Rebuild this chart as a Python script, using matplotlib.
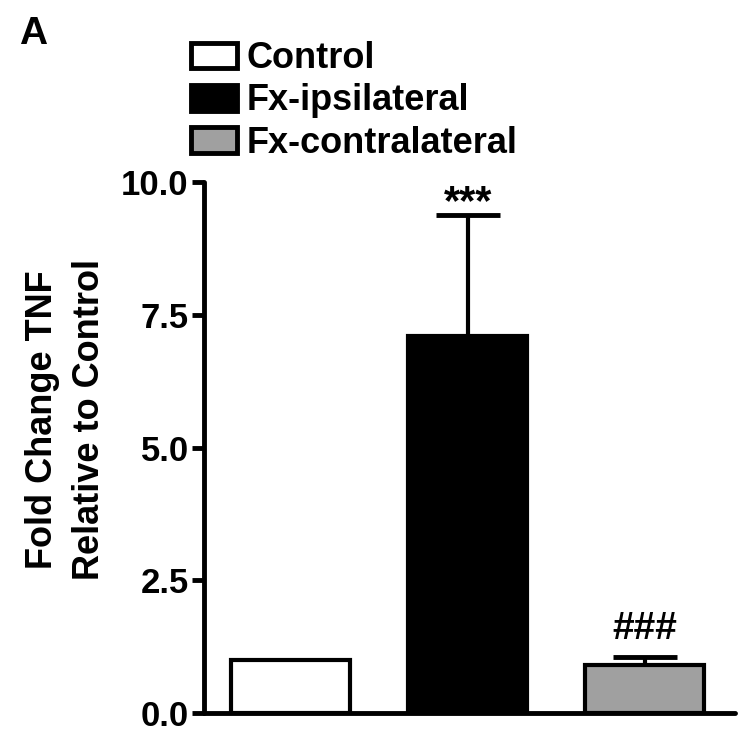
import matplotlib
matplotlib.use("Agg")
import matplotlib.pyplot as plt
from matplotlib.patches import Patch

plt.rcParams['font.family'] = ['Liberation Sans', 'DejaVu Sans']
plt.rcParams['font.weight'] = 'bold'

groups = ["Control", "Fx-ipsilateral", "Fx-contralateral"]
means = [1.0, 7.1, 0.9]
errors = [0.0, 2.28, 0.15]
colors = ["white", "black", "#a0a0a0"]
annotations = ["", "***", "###"]
yticks = [0.0, 2.5, 5.0, 7.5, 10.0]
ylabel = "Fold Change TNF\nRelative to Control"

fig = plt.figure(figsize=(7.5, 7.34), dpi=100)
ax = fig.add_axes([0.272, 0.0286, 0.708, 0.7234])

x = list(range(len(groups)))
ax.bar(x, means, width=0.67, color=colors, edgecolor="black", linewidth=3, zorder=2)
for xi, m, e in zip(x, means, errors):
    if e > 0:
        ax.errorbar([xi], [m], yerr=[[0], [e]], fmt="none", ecolor="black",
                    elinewidth=3, capsize=23, capthick=3.5, zorder=1)
offsets = [0, -0.15, 0.2]
sizes = [0, 30, 28]
for xi, m, e, a, o, s in zip(x, means, errors, annotations, offsets, sizes):
    if a:
        ax.text(xi, m + e + o, a, ha="center", va="bottom", fontsize=s,
                fontweight="bold")

ax.set_xlim(-0.49, 2.51)
ax.set_ylim(0, 10)
ax.set_yticks(yticks)
ax.set_yticklabels([f"{t:.1f}" for t in yticks])
ax.set_xticks([])
ax.spines['top'].set_visible(False)
ax.spines['right'].set_visible(False)
for s in ['left', 'bottom']:
    ax.spines[s].set_linewidth(3.5)
    ax.spines[s].set_capstyle('round')
ax.tick_params(axis='y', direction='out', length=9, width=3.5, labelsize=25, pad=2)
for lbl in ax.get_yticklabels():
    lbl.set_fontweight('bold')
ax.set_ylabel(ylabel, fontsize=26, fontweight='bold', linespacing=1.45, labelpad=10)
ax.yaxis.label.set_y(0.552)
for sp in ax.spines.values():
    sp.set_clip_on(False)

handles = [Patch(facecolor=c, edgecolor="black", linewidth=3.5) for c in colors]
fig.legend(handles, groups, loc="upper left", bbox_to_anchor=(0.254, 0.944),
           frameon=False, handlelength=1.3, handleheight=0.72,
           handletextpad=0.25, labelspacing=0.2, borderaxespad=0, borderpad=0,
           prop={'weight': 'bold', 'size': 26})

fig.text(0.026, 0.978, "A", fontsize=28, fontweight="bold", ha="left", va="top")

fig.savefig("out.png", dpi=100)
